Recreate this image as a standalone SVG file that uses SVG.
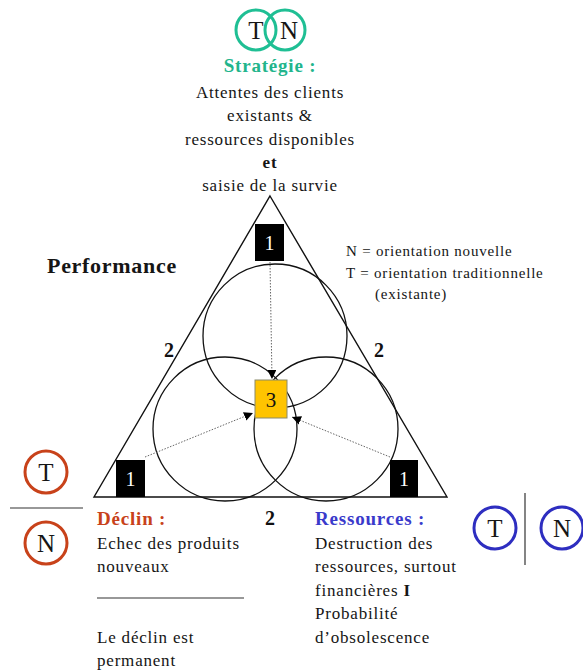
<svg xmlns="http://www.w3.org/2000/svg" width="583" height="671" viewBox="0 0 583 671">
  <style>
    text { font-family: "Liberation Serif", "DejaVu Serif", serif; fill: #151515; }
    .body { font-size: 17px; letter-spacing: 0.8px; }
    .mid { text-anchor: middle; }
    .bold { font-weight: bold; }
    .head { font-size: 19px; font-weight: bold; letter-spacing: 0.8px; }
    .legend { font-size: 15px; letter-spacing: 0.8px; }
    .num { font-size: 20px; font-weight: bold; fill: #111; text-anchor: middle; }
    .box { fill: #000; }
    .boxnum { font-size: 20px; fill: #fff; text-anchor: middle; }
    .ring { fill: none; stroke: #111; stroke-width: 1.3; }
    .flow { fill: none; stroke: #666; stroke-width: 1; stroke-dasharray: 1.5 1.5; }
    .tag { font-size: 25px; text-anchor: middle; }
  </style>
  <defs>
    <marker id="head" viewBox="0 0 10 10" refX="10" refY="5" markerWidth="9" markerHeight="9" markerUnits="userSpaceOnUse" orient="auto">
      <path d="M0,0 L10,5 L0,10 Z" fill="#000"/>
    </marker>
  </defs>

  <rect width="583" height="671" fill="#fff"/>

  <!-- strategy (top) -->
  <g id="strategie">
    <circle cx="256" cy="30" r="20" fill="none" stroke="#1FBF94" stroke-width="3"/>
    <circle cx="285" cy="30" r="20" fill="none" stroke="#1FBF94" stroke-width="3"/>
    <text class="tag" x="256" y="39">T</text>
    <text class="tag" x="289" y="39">N</text>
    <text class="head mid" x="270" y="72" style="fill:#22B58C">Stratégie :</text>
    <text class="body mid" x="270" y="98">Attentes des clients</text>
    <text class="body mid" x="270" y="121">existants &amp;</text>
    <text class="body mid" x="270" y="145">ressources disponibles</text>
    <text class="body mid bold" x="270" y="168">et</text>
    <text class="body mid" x="270" y="191">saisie de la survie</text>
  </g>

  <g id="performance">
    <text class="bold" x="47" y="273" style="font-size:22px;letter-spacing:0.7px">Performance</text>
  </g>

  <g id="legende">
    <text class="legend" x="346" y="256">N = orientation nouvelle</text>
    <text class="legend" x="346" y="278">T = orientation traditionnelle</text>
    <text class="legend" x="375" y="299">(existante)</text>
  </g>

  <!-- triangle with three circles -->
  <g id="triangle">
    <path d="M270,196 L447,497 L94,497 Z" fill="none" stroke="#111" stroke-width="1.4"/>
    <circle class="ring" cx="275" cy="336" r="72"/>
    <circle class="ring" cx="225" cy="429" r="72"/>
    <circle class="ring" cx="326" cy="429" r="72"/>
    <text class="num" x="169" y="357">2</text>
    <text class="num" x="379" y="357">2</text>
    <text class="num" x="270" y="525">2</text>
  </g>

  <g id="coin-haut">
    <rect class="box" x="255" y="224" width="29" height="37"/>
    <text class="boxnum" x="269.5" y="250">1</text>
  </g>
  <g id="coin-gauche">
    <rect class="box" x="116" y="460" width="29" height="37"/>
    <text class="boxnum" x="130.5" y="486">1</text>
  </g>
  <g id="coin-droit">
    <rect class="box" x="390" y="460" width="28" height="37"/>
    <text class="boxnum" x="404" y="486">1</text>
  </g>
  <g id="centre">
    <rect x="255" y="380" width="32" height="38" fill="#FFC400" stroke="#8a8a6a" stroke-width="1"/>
    <text x="271" y="407" text-anchor="middle" style="font-size:21px;fill:#111">3</text>
  </g>

  <g id="connecteurs">
    <line class="flow" x1="270" y1="262" x2="272" y2="379" marker-end="url(#head)"/>
    <line class="flow" x1="145" y1="457" x2="253" y2="413" marker-end="url(#head)"/>
    <line class="flow" x1="390" y1="457" x2="292" y2="417" marker-end="url(#head)"/>
  </g>

  <!-- decline (bottom left) -->
  <g id="declin">
    <circle cx="46" cy="472" r="21" fill="none" stroke="#C8421A" stroke-width="3"/>
    <text class="tag" x="46" y="481">T</text>
    <line x1="10" y1="508" x2="83" y2="508" stroke="#333" stroke-width="1.2"/>
    <circle cx="46" cy="543" r="21" fill="none" stroke="#C8421A" stroke-width="3"/>
    <text class="tag" x="46" y="552">N</text>
    <text class="head" x="97" y="525" style="fill:#C8421A">Déclin :</text>
    <text class="body" x="97" y="549">Echec des produits</text>
    <text class="body" x="97" y="572">nouveaux</text>
    <line x1="97" y1="598" x2="244" y2="598" stroke="#333" stroke-width="1.2"/>
    <text class="body" x="97" y="643">Le déclin est</text>
    <text class="body" x="97" y="666">permanent</text>
  </g>

  <!-- resources (bottom right) -->
  <g id="ressources">
    <text class="head" x="315" y="525" style="fill:#3A3ACB">Ressources :</text>
    <text class="body" x="315" y="549">Destruction des</text>
    <text class="body" x="315" y="572">ressources, surtout</text>
    <text class="body" x="315" y="596">financières <tspan class="bold">I</tspan></text>
    <text class="body" x="315" y="619">Probabilité</text>
    <text class="body" x="315" y="643">d’obsolescence</text>
    <circle cx="495" cy="528" r="21" fill="none" stroke="#2E2EC0" stroke-width="3"/>
    <text class="tag" x="495" y="537">T</text>
    <line x1="525" y1="493" x2="525" y2="565" stroke="#333" stroke-width="1.2"/>
    <circle cx="562" cy="528" r="21" fill="none" stroke="#2E2EC0" stroke-width="3"/>
    <text class="tag" x="562" y="537">N</text>
  </g>
</svg>
